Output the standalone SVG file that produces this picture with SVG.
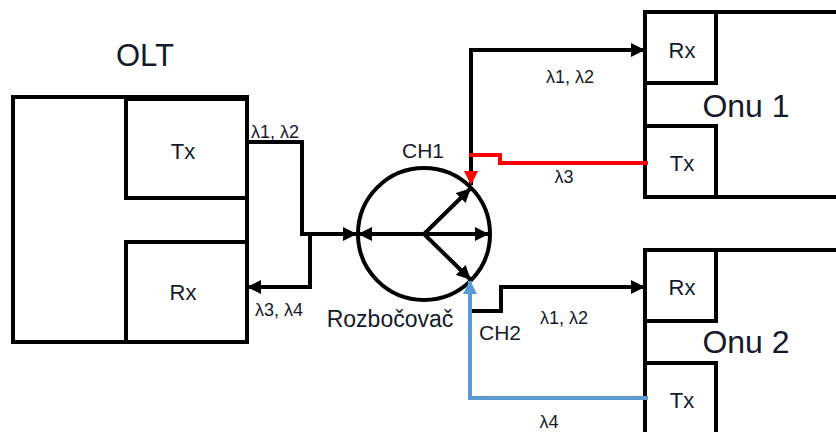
<svg xmlns="http://www.w3.org/2000/svg" width="836" height="432" viewBox="0 0 836 432">
<defs>
<style>
.box{fill:none;stroke:#000;stroke-width:4;stroke-linejoin:miter}
.ln{fill:none;stroke:#000;stroke-width:4}
.red{fill:none;stroke:#ff0000;stroke-width:4}
.blue{fill:none;stroke:#5b9bd5;stroke-width:4}
text{font-family:"Liberation Sans",Arial,sans-serif;fill:#141a2b;text-anchor:middle}
.big{font-size:32px}
.mid{font-size:22px}
.sm{font-size:18px}
</style>
<marker id="ab" markerUnits="userSpaceOnUse" markerWidth="14" markerHeight="14" refX="13" refY="7" orient="auto"><path d="M0,0 L14,7 L0,14 z" fill="#000"/></marker>
<marker id="ar" markerUnits="userSpaceOnUse" markerWidth="14" markerHeight="14" refX="13" refY="7" orient="auto"><path d="M0,0 L14,7 L0,14 z" fill="#ff0000"/></marker>
<marker id="abl" markerUnits="userSpaceOnUse" markerWidth="14" markerHeight="14" refX="13" refY="7" orient="auto"><path d="M0,0 L14,7 L0,14 z" fill="#5b9bd5"/></marker>
</defs>
<rect width="836" height="432" fill="#fff"/>

<g id="olt">
<rect class="box" x="13" y="97" width="234" height="245"/>
<rect class="box" x="126" y="99" width="121" height="99"/>
<rect class="box" x="126" y="242" width="121" height="100"/>
<text x="145" y="66" style="font-size:31px">OLT</text>
<text class="mid" x="183" y="159">Tx</text>
<text class="mid" x="183" y="300">Rx</text>
</g>

<g id="splitter">
<circle cx="424" cy="234" r="66" fill="none" stroke="#000" stroke-width="4"/>
<text x="423" y="158" style="font-size:21px">CH1</text>
<text x="390" y="327" style="font-size:23px">Rozbočovač</text>
<text x="500" y="340" style="font-size:21px">CH2</text>
</g>

<g id="onu1">
<path class="box" d="M840,12 H645 V197 H840"/>
<rect class="box" x="645" y="12" width="71" height="71"/>
<rect class="box" x="645" y="126" width="71" height="71"/>
<text class="mid" x="682" y="58">Rx</text>
<text class="mid" x="682" y="171">Tx</text>
<text class="big" x="746" y="117">Onu 1</text>
</g>

<g id="onu2">
<path class="box" d="M840,250 H645 V440"/>
<rect class="box" x="645" y="250" width="71" height="71"/>
<rect class="box" x="645" y="363" width="71" height="80"/>
<text class="mid" x="682" y="295">Rx</text>
<text class="mid" x="682" y="408">Tx</text>
<text class="big" x="746" y="353">Onu 2</text>
</g>

<g id="connectors">
<path class="ln" d="M247,142 H302 V234 H356" marker-end="url(#ab)"/>
<path class="ln" d="M302,234 H310 V287 H248" marker-end="url(#ab)"/>
<path class="ln" d="M424,234 H359" marker-end="url(#ab)"/>
<path class="ln" d="M424,234 H488" marker-end="url(#ab)"/>
<path class="ln" d="M424,234 L470,189" marker-end="url(#ab)"/>
<path class="ln" d="M424,234 L470,279" marker-end="url(#ab)"/>
<path class="ln" d="M471,185 V50 H644" marker-end="url(#ab)"/>
<path class="red" d="M648,163 H500 V155 H469"/>
<path d="M471,168 V184" stroke="none" fill="none" marker-end="url(#ar)"/>
<path class="ln" d="M471,311 H501 V287 H644" marker-end="url(#ab)"/>
<path class="blue" d="M648,398 H470 V281" marker-end="url(#abl)"/>
<text class="sm" x="275" y="138">λ1, λ2</text>
<text class="sm" x="279" y="316">λ3, λ4</text>
<text class="sm" x="570" y="83">λ1, λ2</text>
<text class="sm" x="564" y="183">λ3</text>
<text class="sm" x="564" y="324">λ1, λ2</text>
<text class="sm" x="549" y="428">λ4</text>
</g>
</svg>
